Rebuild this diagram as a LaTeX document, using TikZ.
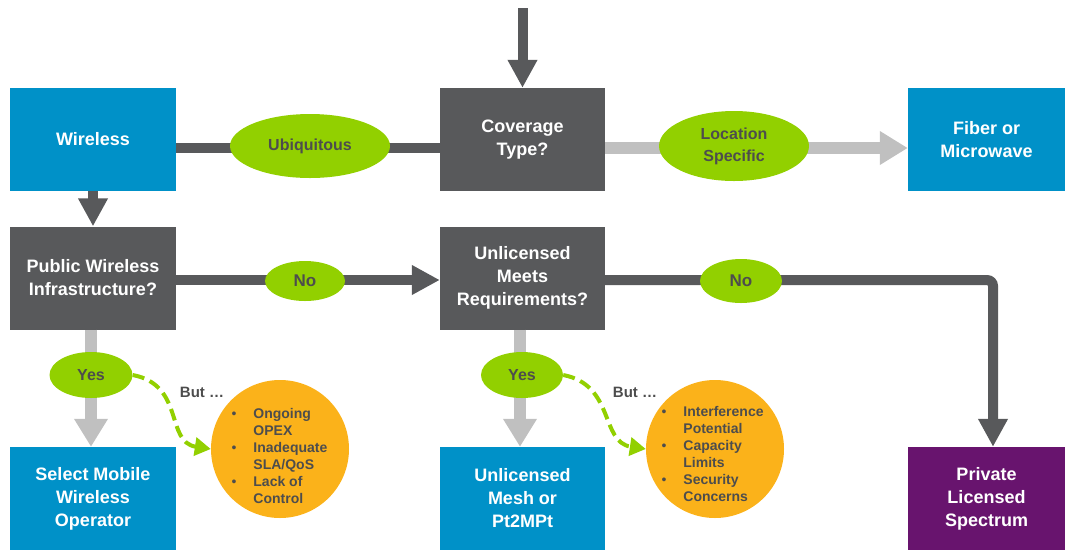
\documentclass[tikz,border=0pt]{standalone}
\usepackage{fontspec}
\setmainfont{Liberation Sans}
\usetikzlibrary{arrows.meta,shapes.geometric}
\definecolor{cblue}{RGB}{0,145,200}
\definecolor{cdark}{RGB}{88,89,91}
\definecolor{clight}{RGB}{192,192,192}
\definecolor{cgreen}{RGB}{146,208,0}
\definecolor{corange}{RGB}{251,178,26}
\definecolor{cpurple}{RGB}{104,20,110}
\definecolor{ctext}{RGB}{77,77,77}
\tikzset{
  box/.style={rectangle, minimum width=166pt, minimum height=103pt, inner sep=0pt, align=center,
    font=\fontsize{18}{23}\selectfont\bfseries, text=white},
  bluebox/.style={box, fill=cblue},
  darkbox/.style={box, fill=cdark},
  purplebox/.style={box, fill=cpurple},
  oval/.style={ellipse, fill=cgreen, inner sep=0pt, align=center, text=ctext,
    font=\fontsize{16}{22}\selectfont\bfseries},
  bubble/.style={circle, fill=corange, minimum size=138pt, inner sep=0pt},
  bubtext/.style={anchor=west, align=left, text=ctext, font=\fontsize{14}{17}\selectfont\bfseries},
  darkline/.style={draw=cdark, line width=10pt},
  darkarrow/.style={darkline, -{Triangle[length=28pt,width=28pt]}},
  lightline/.style={draw=clight, line width=12pt},
  lightarrow/.style={lightline, -{Triangle[length=28pt,width=32pt]}},
  dasharrow/.style={draw=cgreen, line width=4pt, dash pattern=on 12pt off 6pt,
    -{Triangle[length=16pt,width=18pt]}},
  butlabel/.style={text=ctext, font=\fontsize{15}{18}\selectfont\bfseries},
}
\newcommand{\bul}{\textbullet}
\begin{document}
\begin{tikzpicture}[x=1pt,y=-1pt]
\useasboundingbox (0,0) rectangle (1065,550);

% boxes
\node[bluebox] (wl) at (93,139.5) {Wireless};
\node[darkbox, minimum width=165pt] (cov) at (522.5,139.5) {Coverage\\Type?};
\node[bluebox, minimum width=157pt] (fib) at (986.5,139.5) {Fiber or\\Microwave};
\node[darkbox] (pub) at (93,278) {Public Wireless\\Infrastructure?};
\node[darkbox, minimum width=165pt] (unl) at (522.5,278) {Unlicensed\\Meets\\Requirements?};
\node[bluebox] (sel) at (93,498.5) {Select Mobile\\Wireless\\Operator};
\node[bluebox, minimum width=165pt] (mesh) at (522.5,498.5) {Unlicensed\\Mesh or\\Pt2MPt};
\node[purplebox, minimum width=157pt] (priv) at (986.5,498.5) {Private\\Licensed\\Spectrum};

% connectors
\coordinate (top) at (522.5,8);
\draw[darkarrow] (top) -- (cov.north);
\draw[darkline] (wl.east |- 0,148) -- (cov.west |- 0,148);
\draw[lightarrow] (cov.east |- 0,148) -- (fib.west |- 0,148);
\draw[darkarrow] (wl.south) -- (pub.north);
\draw[darkarrow] (pub.east |- 0,280) -- (unl.west |- 0,280);
\coordinate (corner) at (993,280);
\draw[darkarrow, rounded corners=6pt] (unl.east |- 0,280) -- (corner) -- (corner |- priv.north);
\draw[lightarrow] (pub.south -| 91,0) -- (sel.north -| 91,0);
\draw[lightarrow] (unl.south -| 520,0) -- (mesh.north -| 520,0);

% ovals
\node[oval, minimum width=160pt, minimum height=64pt] (ubi) at (310,146) {Ubiquitous};
\node[oval, minimum width=150pt, minimum height=70pt] (loc) at (734,146) {Location\\Specific};
\node[oval, minimum width=80pt, minimum height=40pt, font=\fontsize{17}{20}\selectfont\bfseries] (no1) at (305,281) {No};
\node[oval, minimum width=82pt, minimum height=44pt, font=\fontsize{17}{20}\selectfont\bfseries] (no2) at (741,281) {No};
\node[oval, minimum width=83pt, minimum height=46pt] (yes1) at (91,375) {Yes};
\node[oval, minimum width=82pt, minimum height=46pt] (yes2) at (522,375) {Yes};

% bubbles
\node[bubble] (c1) at (280,449) {};
\node[bubtext] (t1) at (228,458) {\begin{tabular}{@{}l@{\hspace{17pt}}l@{}}\mdseries\bul & Ongoing\\ & OPEX\\ \mdseries\bul & Inadequate\\ & SLA/QoS\\ \mdseries\bul & Lack of\\ & Control\end{tabular}};
\node[bubble] (c2) at (715,449) {};
\node[bubtext] (t2) at (658,456) {\begin{tabular}{@{}l@{\hspace{17pt}}l@{}}\mdseries\bul & Interference\\ & Potential\\ \mdseries\bul & Capacity\\ & Limits\\ \mdseries\bul & Security\\ & Concerns\end{tabular}};

\node[butlabel] (but1) at (202,392) {But \dots};
\node[butlabel] (but2) at (635,392) {But \dots};

\draw[dasharrow] (yes1.east) .. controls (185,385) and (165,442) .. (c1.west);
\draw[dasharrow] (yes2.east) .. controls (615,385) and (600,442) .. (c2.west);
\end{tikzpicture}
\end{document}
